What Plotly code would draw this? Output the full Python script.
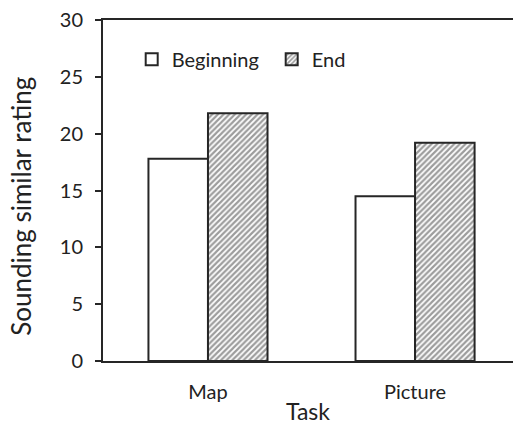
import plotly.graph_objects as go

tasks = ["Map", "Picture"]
beginning = [17.8, 14.5]
end = [21.8, 19.2]
y_ticks = [0, 5, 10, 15, 20, 25, 30]

FONT = "Lato"
LINE = "#262626"

fig = go.Figure()
fig.add_trace(go.Bar(
    x=tasks, y=beginning, name="Beginning",
    marker=dict(color="white", line=dict(color=LINE, width=2)),
))
fig.add_trace(go.Bar(
    x=tasks, y=end, name="End",
    marker=dict(color="white", line=dict(color=LINE, width=2),
                pattern=dict(shape="/", fgcolor="#3a3a3a", bgcolor="white",
                             size=4, solidity=0.55)),
))

fig.update_layout(
    width=513, height=425,
    margin=dict(l=103, r=0, t=20, b=62),
    paper_bgcolor="white", plot_bgcolor="white",
    barmode="group", bargap=0.425, bargroupgap=0,
    font=dict(family=FONT, size=20, color="#222222"),
    showlegend=True,
    legend=dict(orientation="h", x=0.07, y=0.885, xanchor="left", yanchor="middle",
                font=dict(size=20), itemwidth=30, bgcolor="rgba(0,0,0,0)",
                entrywidth=95, traceorder="normal"),
    xaxis=dict(range=[-0.507, 1.473], showline=True, linecolor=LINE, linewidth=2,
               mirror=True, ticks="", showgrid=False, zeroline=False,
               ticklabelstandoff=12,
               title=dict(text="Task", font=dict(size=23), standoff=6),
               tickfont=dict(size=20)),
    yaxis=dict(range=[0, 30], tickvals=y_ticks, showline=True, linecolor=LINE,
               linewidth=2, ticks="outside", ticklen=6, tickwidth=1.5, tickcolor=LINE,
               showgrid=False, zeroline=False, ticklabelstandoff=8,
               tickfont=dict(size=20)),
    annotations=[dict(text="Sounding similar rating", textangle=-90,
                      xref="paper", yref="paper", x=-0.2, y=0.452,
                      xanchor="center", yanchor="middle", showarrow=False,
                      font=dict(size=26, family=FONT, color="#222222"))],
)

fig.write_html("out.html", config={"displayModeBar": False},
               post_script="document.body.style.margin='0';document.body.style.overflow='hidden';")
